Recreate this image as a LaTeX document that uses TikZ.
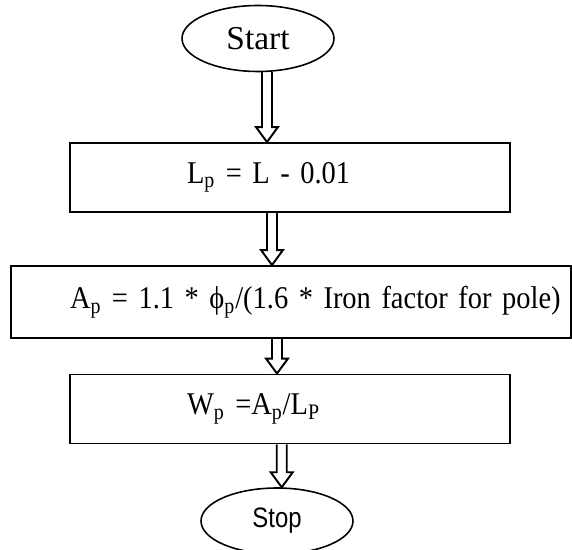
\documentclass[tikz,border=0pt]{standalone}
\usepackage{fontspec}
\setmainfont{Liberation Serif}
\newfontfamily\boxfont{Liberation Serif}[FakeStretch=0.9]
\newfontfamily\stopfont{Liberation Sans}[FakeStretch=0.85]
\usetikzlibrary{shapes,calc}

\protected\def\boxtext{\boxfont\fontsize{18}{22}\selectfont\spaceskip=3.4pt\relax}

% hollow block arrow from #1 (tail) down to #2 (tip)
\newcommand{\flowarrow}[2]{%
    \draw[hollowarrow] ($(#1)+(-5,0)$) -- ($(#2)+(-5,-15)$) -- ($(#2)+(-11,-15)$)
        -- (#2) -- ($(#2)+(11,-15)$) -- ($(#2)+(5,-15)$) -- ($(#1)+(5,0)$);}

\begin{document}
\begin{tikzpicture}[x=0.02cm, y=-0.02cm,
    termnode/.style={ellipse, draw=black, line width=0.9pt, inner sep=0pt, minimum width=3.04cm, minimum height=1.32cm},
    procbox/.style={rectangle, draw=black, line width=1.1pt, inner xsep=0pt, inner ysep=0pt, align=left, font=\boxtext},
    hollowarrow/.style={draw=black, line width=1.1pt, line join=miter}]

    \useasboundingbox (0,0) rectangle (572,550);

    % Start
    \node[termnode, font=\fontsize{19}{22}\selectfont] (start) at (258,38.5) {Start};

    % Pole length
    \node[procbox, text width=8.8cm, minimum height=1.38cm]
        (lp) at (290,177.5) {\hspace*{2.34cm}L\textsubscript{p} = L - 0.01};

    % Pole area
    \node[procbox, text width=11.2cm, minimum height=1.44cm]
        (ap) at (291,302) {\hspace*{1.18cm}A\textsubscript{p} = 1.1 * ϕ\textsubscript{p}/(1.6 * Iron factor for pole)};

    % Pole width
    \node[procbox, text width=8.8cm, minimum height=1.38cm]
        (wp) at (290,409) {\hspace*{2.34cm}W\textsubscript{p} =A\textsubscript{p}/L\textsubscript{P}};

    % Stop
    \node[termnode, font=\stopfont\fontsize{16}{19}\selectfont] (stop) at (277,521) {Stop};

    % Arrows
    \coordinate (t2) at ($(lp.south)+(-18,0)$);
    \coordinate (t3) at ($(ap.south)+(-14,0)$);
    \flowarrow{start.-75}{lp.north -| start.-75}
    \flowarrow{t2}{ap.north -| t2}
    \flowarrow{t3}{wp.north -| t3}
    \flowarrow{wp.south -| stop.82}{stop.82}

\end{tikzpicture}
\end{document}
